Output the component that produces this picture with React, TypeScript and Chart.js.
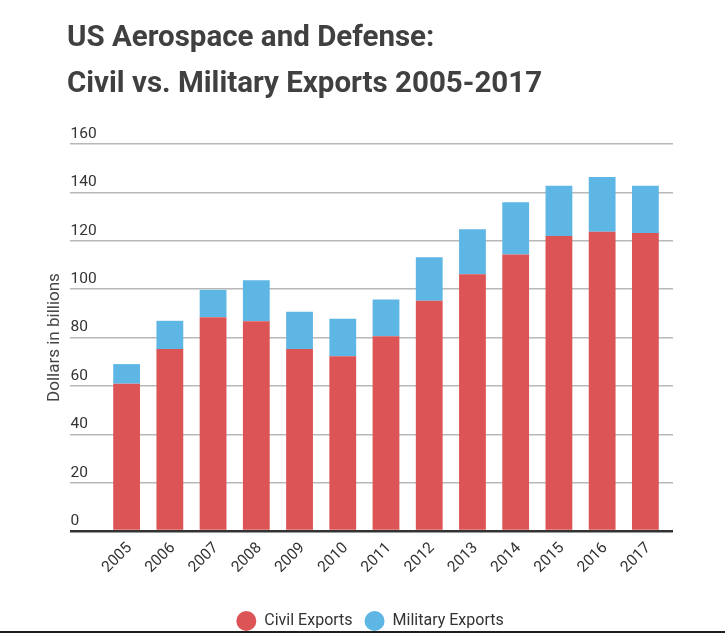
import React, { useEffect, useRef } from "react";
import { Chart, registerables } from "chart.js";

Chart.register(...registerables);

const years = ["2005", "2006", "2007", "2008", "2009", "2010", "2011", "2012", "2013", "2014", "2015", "2016", "2017"];
const civilExports = [60.9, 75.2, 88.4, 86.7, 75.2, 72.2, 80.5, 95.2, 106.2, 114.3, 122.0, 123.7, 123.2];
const militaryExports = [8.1, 11.7, 11.3, 17.0, 15.4, 15.6, 15.2, 18.0, 18.6, 21.6, 20.7, 22.7, 19.5];
const titleLines = ["US Aerospace and Defense:", "Civil vs. Military Exports 2005-2017"];

const gridColor = (ctx: any) => (ctx.tick && ctx.tick.value === 0 ? "#333333" : "#b8b8b8");
const gridWidth = (ctx: any) => (ctx.tick && ctx.tick.value === 0 ? 2.5 : 1.5);

const App: React.FC = () => {
  const chartRef = useRef<HTMLCanvasElement | null>(null);

  useEffect(() => {
    if (!chartRef.current) return;
    const ctx = chartRef.current.getContext("2d");
    if (!ctx) return;

    const chart = new Chart(ctx, {
      type: "bar",
      data: {
        labels: years,
        datasets: [
          {
            label: "Civil Exports",
            data: civilExports,
            backgroundColor: "#dc5456",
            borderWidth: 0,
          },
          {
            label: "Military Exports",
            data: militaryExports,
            backgroundColor: "#5eb6e4",
            borderWidth: 0,
          },
        ],
      },
      options: {
        animation: false,
        responsive: true,
        maintainAspectRatio: false,
        layout: { padding: { left: 67, right: 52, top: 0, bottom: -8 } },
        datasets: { bar: { barPercentage: 0.62, categoryPercentage: 1 } },
        plugins: {
          title: {
            display: true,
            text: titleLines,
            align: "start",
            color: "#404040",
            font: { family: "Roboto", size: 29.5, weight: "bold", lineHeight: 46 / 29.5 },
            padding: { top: 16, bottom: 36 },
          },
          legend: {
            position: "bottom",
            labels: {
              usePointStyle: true,
              pointStyle: "circle",
              boxHeight: 14,
              pointStyleWidth: 20,
              color: "#333333",
              font: { family: "Roboto", size: 16 },
              padding: 12,
            },
          },
          tooltip: { enabled: false },
        },
        scales: {
          x: {
            stacked: true,
            grid: { display: false, drawTicks: false },
            border: { display: false },
            ticks: {
              minRotation: 45,
              maxRotation: 45,
              padding: 8,
              labelOffset: 3,
              color: "#333333",
              font: { family: "Roboto", size: 15.5 },
            },
            afterFit: (scale: any) => {
              scale.height = 70;
            },
          },
          y: {
            stacked: true,
            min: 0,
            max: 160,
            border: { display: false },
            grid: { color: gridColor, lineWidth: gridWidth, drawTicks: true, tickLength: 35 },
            ticks: {
              stepSize: 20,
              mirror: true,
              padding: -34.5,
              labelOffset: -10,
              color: "#333333",
              font: { family: "Roboto", size: 15.5 },
            },
            title: {
              display: true,
              text: "Dollars in billions",
              color: "#444444",
              font: { family: "Roboto", size: 17 },
              padding: { top: -22, bottom: 0 },
            },
            afterFit: (scale: any) => {
              scale.width = 38;
            },
          },
          y2: {
            position: "right",
            min: 0,
            max: 160,
            border: { display: false },
            grid: { color: gridColor, lineWidth: gridWidth, drawOnChartArea: false, drawTicks: true, tickLength: 6 },
            ticks: { stepSize: 20, display: false },
            afterFit: (scale: any) => {
              scale.width = 6;
            },
          },
        },
      },
    });

    return () => {
      chart.destroy();
    };
  }, []);

  return (
    <div
      style={{
        position: "absolute",
        left: 0,
        top: 0,
        width: 725,
        height: 631,
        borderBottom: "2px solid #1e1e1e",
        background: "#ffffff",
      }}
    >
      <canvas ref={chartRef}></canvas>
    </div>
  );
};

export default App;
